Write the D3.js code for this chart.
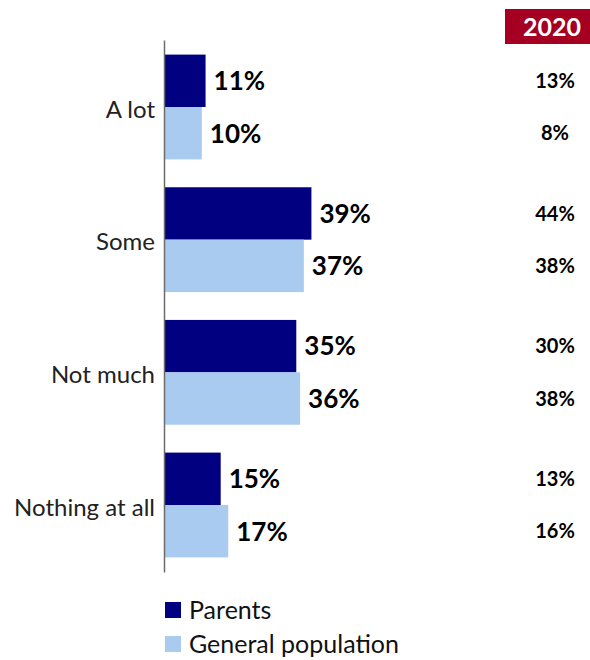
<!DOCTYPE html>
<html>
<head>
<meta charset="utf-8">
<script src="https://cdn.jsdelivr.net/npm/d3@7"></script>
<style>
  html, body { margin: 0; padding: 0; background: #fff; }
  svg { display: block; font-family: Lato, "Open Sans", sans-serif; }
</style>
</head>
<body>
<svg id="chart" width="590" height="660"></svg>
<script>
// Answer categories, top to bottom
const categories = ["A lot", "Some", "Not much", "Nothing at all"];
const seriesNames = ["Parents", "General population"];
// Current-year shares (%)
const parents = [11, 39, 35, 15];
const generalPopulation = [10, 37, 36, 17];
// Comparison column for 2020 (%)
const year2020Label = "2020";
const parents2020 = [13, 44, 30, 13];
const generalPopulation2020 = [8, 38, 38, 16];

const colors = ["#000080", "#A9CBEF"];

const svg = d3.select("#chart");

const axisX = 164;
const y = d3.scaleBand().domain(categories).range([40, 572]).paddingInner(0.21).paddingOuter(0.11);
const x = d3.scaleLinear().domain([0, 100]).range([axisX, axisX + 378]);
const sub = d3.scaleBand().domain(seriesNames).range([0, y.bandwidth()]);

const rows = categories.map((c, i) => ({
  cat: c,
  vals: [parents[i], generalPopulation[i]],
  old: [parents2020[i], generalPopulation2020[i]]
}));

const g = svg.selectAll("g.cat").data(rows).join("g")
  .attr("class", "cat")
  .attr("transform", d => `translate(0,${y(d.cat)})`);

// bars
g.selectAll("rect").data(d => d.vals.map((v, k) => ({ v, k }))).join("rect")
  .attr("x", x(0))
  .attr("y", d => sub(seriesNames[d.k]))
  .attr("width", d => x(d.v) - x(0))
  .attr("height", sub.bandwidth())
  .attr("fill", d => colors[d.k]);

// value labels
g.selectAll("text.val").data(d => d.vals.map((v, k) => ({ v, k }))).join("text")
  .attr("class", "val")
  .attr("x", d => x(d.v) + 8)
  .attr("y", d => sub(seriesNames[d.k]) + sub.bandwidth() / 2)
  .attr("dy", "0.36em")
  .attr("font-size", 26)
  .attr("font-weight", "bold")
  .attr("fill", "#000")
  .text(d => d.v + "%");

// 2020 comparison values
g.selectAll("text.old").data(d => d.old.map((v, k) => ({ v, k }))).join("text")
  .attr("class", "old")
  .attr("x", 555)
  .attr("y", d => sub(seriesNames[d.k]) + sub.bandwidth() / 2)
  .attr("dy", "0.36em")
  .attr("text-anchor", "middle")
  .attr("font-size", 20)
  .attr("font-weight", "bold")
  .attr("fill", "#000")
  .text(d => d.v + "%");

// category axis
const axis = d3.axisLeft(y).tickSize(0).tickPadding(9);
const axG = svg.append("g").attr("transform", `translate(${axisX},0)`).call(axis);
axG.select(".domain").attr("stroke", "#6b6b6b").attr("stroke-width", 1.5);
axG.selectAll(".tick text")
  .attr("font-size", 24)
  .attr("dy", "0.45em")
  .attr("font-family", "Lato, 'Open Sans', sans-serif")
  .attr("fill", "#222");

// 2020 header
svg.append("rect").attr("x", 505).attr("y", 9).attr("width", 85).attr("height", 35).attr("fill", "#A50021");
svg.append("text").attr("x", 552).attr("y", 27).attr("dy", "0.36em")
  .attr("text-anchor", "middle").attr("font-size", 25).attr("font-weight", "bold")
  .attr("fill", "#fff").text(year2020Label);

// legend
const leg = svg.selectAll("g.leg").data(seriesNames).join("g")
  .attr("class", "leg")
  .attr("transform", (d, i) => `translate(165,${602 + i * 34})`);
leg.append("rect").attr("width", 16).attr("height", 16).attr("fill", (d, i) => colors[i]);
leg.append("text").attr("x", 24).attr("y", 8).attr("dy", "0.36em")
  .attr("font-size", 25).attr("fill", "#111").text(d => d);
</script>
</body>
</html>
